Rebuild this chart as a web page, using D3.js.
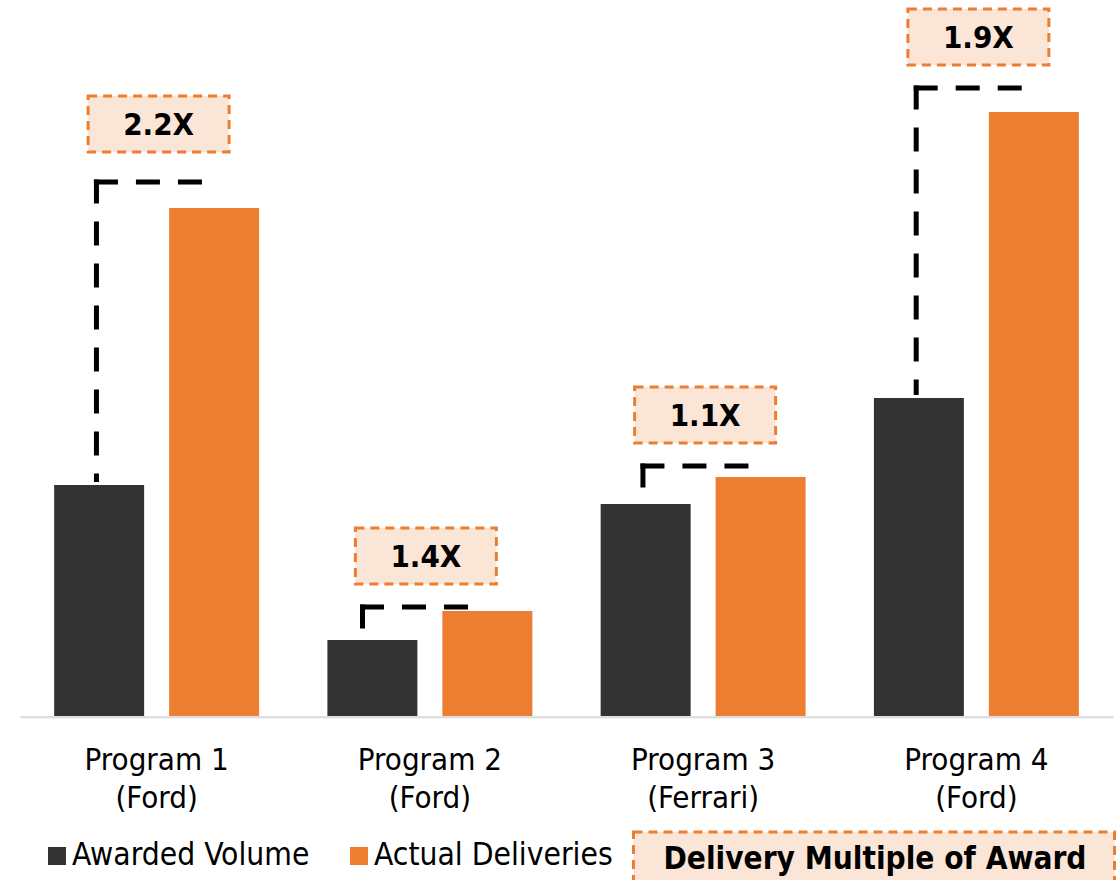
<!DOCTYPE html>
<html>
<head>
<meta charset="utf-8">
<script src="https://cdn.jsdelivr.net/npm/d3@7"></script>
<style>
  html, body { margin: 0; padding: 0; background: #ffffff; }
  svg { display: block; }
  .reg { font-family: "DejaVu Sans Condensed", "DejaVu Sans", sans-serif; font-stretch: condensed; }
  .bold { font-family: "DejaVu Sans Condensed", "DejaVu Sans", sans-serif; font-stretch: condensed; font-weight: bold; }
</style>
</head>
<body>
<script>
// ---------- data ----------
const programs = ["Program 1", "Program 2", "Program 3", "Program 4"];
const makers = ["(Ford)", "(Ford)", "(Ferrari)", "(Ford)"];
const awardedVolume = [23.1, 7.6, 21.2, 31.8];
const actualDeliveries = [50.8, 10.5, 23.9, 60.4];
const multipleLabels = ["2.2X", "1.4X", "1.1X", "1.9X"];
const bracketLevel = [53.4, 10.9, 25.0, 62.8];
const labelLevel = [56.4, 13.2, 27.3, 65.1];
const seriesNames = ["Awarded Volume", "Actual Deliveries"];
const legendBoxText = "Delivery Multiple of Award";

// ---------- setup ----------
const W = 1119, H = 880;
const svg = d3.select("body").append("svg").attr("width", W).attr("height", H);

const dark = "#333333", orange = "#ed7d31", peach = "#fbe5d6";

const x0 = d3.scaleBand().domain(programs).range([20, 1113]).paddingInner(0.25).paddingOuter(0.125);
const x1 = d3.scaleBand().domain(["a", "b"]).range([0, x0.bandwidth()]).paddingInner(0.2174);
const y = d3.scaleLinear().domain([0, 71.6]).range([716, 0]);

const rows = programs.map((p, i) => ({
  p, maker: makers[i], a: awardedVolume[i], b: actualDeliveries[i],
  lab: multipleLabels[i], br: bracketLevel[i], ll: labelLevel[i]
}));

// bars
const g = svg.append("g");
rows.forEach(r => {
  g.append("rect").attr("x", x0(r.p) + x1("a")).attr("y", y(r.a))
    .attr("width", x1.bandwidth()).attr("height", y(0) - y(r.a)).attr("fill", dark);
  g.append("rect").attr("x", x0(r.p) + x1("b")).attr("y", y(r.b))
    .attr("width", x1.bandwidth()).attr("height", y(0) - y(r.b)).attr("fill", orange);
});

// axis line
const xAxis = d3.axisBottom(x0).tickSize(0).tickFormat("");
const ax = svg.append("g").attr("transform", `translate(0,${y(0) + 0.7})`).call(xAxis);
ax.select(".domain").attr("stroke", "#d9d9d9").attr("stroke-width", 2);

// category labels
rows.forEach(r => {
  const cx = x0(r.p) + x0.bandwidth() / 2;
  const t = svg.append("text").attr("class", "reg").attr("text-anchor", "middle")
    .attr("font-size", 31).attr("fill", "#000");
  t.append("tspan").attr("x", cx).attr("y", 770).text(r.p);
  t.append("tspan").attr("x", cx).attr("y", 808).text(r.maker);
});

// brackets
const lw = 5;
rows.forEach((r, i) => {
  const vx = x0(r.p) + x1("a") + x1.bandwidth() * (i === 1 ? 0.39 : 0.47);
  const by = y(r.br);
  const gb = svg.append("g").attr("stroke", "#000").attr("stroke-width", lw)
    .attr("stroke-dasharray", "24,18").attr("fill", "none");
  gb.append("line").attr("x1", vx).attr("x2", vx).attr("y1", by - lw / 2).attr("y2", y(r.a) - 3);
  gb.append("line").attr("x1", vx - lw / 2).attr("x2", vx - lw / 2 + 108).attr("y1", by).attr("y2", by);
});

// multiple labels
const bw = 141, bh = 56;
rows.forEach((r, i) => {
  const cx = x0(r.p) + x0.bandwidth() / 2 + (i === 1 ? -4 : 2);
  const bottom = y(r.ll);
  svg.append("rect").attr("x", cx - bw / 2).attr("y", bottom - bh)
    .attr("width", bw).attr("height", bh).attr("fill", peach)
    .attr("stroke", orange).attr("stroke-width", 3).attr("stroke-dasharray", "9,6");
  svg.append("text").attr("class", "bold").attr("x", cx).attr("y", bottom - bh / 2 + 11)
    .attr("text-anchor", "middle").attr("font-size", 31).attr("fill", "#000").text(r.lab);
});

// legend
const legendItems = [
  { name: seriesNames[0], color: dark, x: 48 },
  { name: seriesNames[1], color: orange, x: 350 }
];
legendItems.forEach(it => {
  svg.append("rect").attr("x", it.x).attr("y", 847).attr("width", 18).attr("height", 18).attr("fill", it.color);
  svg.append("text").attr("class", "reg").attr("x", it.x + 24).attr("y", 865)
    .attr("font-size", 31.5).attr("fill", "#000").text(it.name);
});

// legend box for multiple
svg.append("rect").attr("x", 633.5).attr("y", 832).attr("width", 481).attr("height", 70)
  .attr("fill", peach).attr("stroke", orange).attr("stroke-width", 3).attr("stroke-dasharray", "9,6");
svg.append("text").attr("class", "bold").attr("x", 875).attr("y", 869)
  .attr("text-anchor", "middle").attr("font-size", 31.3).attr("fill", "#000").text(legendBoxText);
</script>
</body>
</html>
